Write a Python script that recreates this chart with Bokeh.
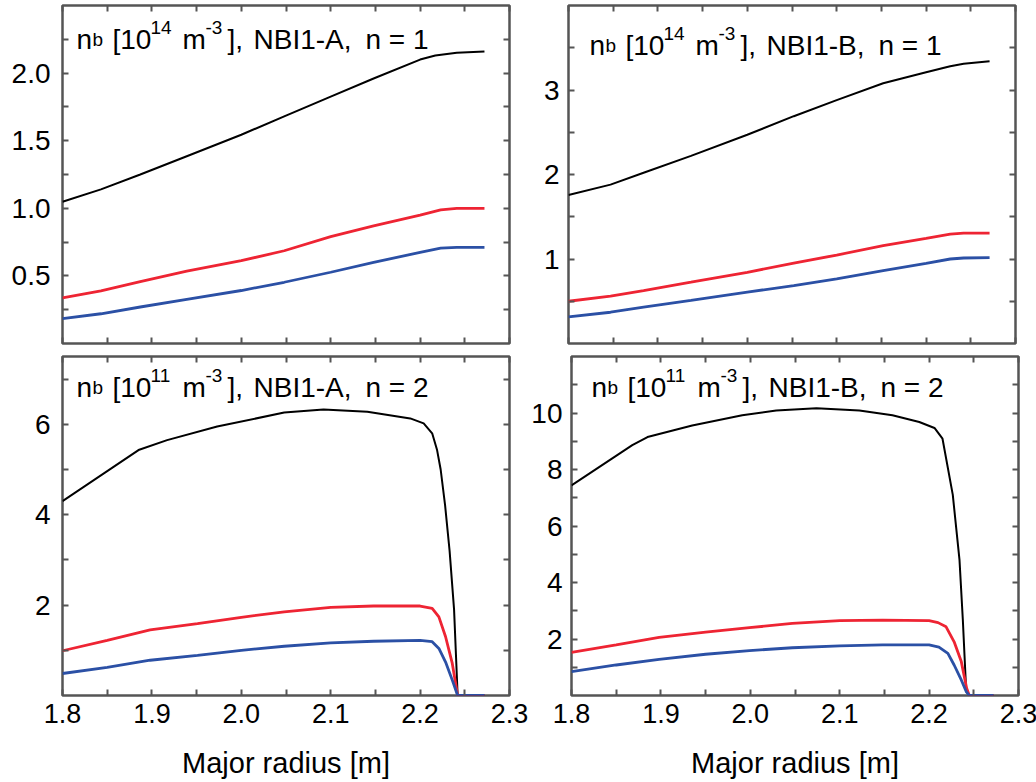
from bokeh.plotting import figure
from bokeh.layouts import column, row
from bokeh.models import (FixedTicker, PrintfTickFormatter, LinearAxis, Range1d, Label,
                          CustomJSTickFormatter)
from bokeh.embed import file_html
from bokeh.resources import INLINE

# ---- beam density profiles vs major radius ----
# NBI1-A, n = 1  [10^14 m^-3]
a1_black_x = [1.800, 1.843, 1.887, 1.939, 2.000, 2.048, 2.100, 2.148, 2.200, 2.217, 2.241, 2.272]
a1_black_y = [1.049, 1.14, 1.25, 1.385, 1.544, 1.68, 1.826, 1.96, 2.10, 2.13, 2.15, 2.16]
a1_red_x = [1.800, 1.843, 1.887, 1.939, 2.000, 2.048, 2.100, 2.148, 2.200, 2.223, 2.241, 2.272]
a1_red_y = [0.338, 0.39, 0.458, 0.535, 0.613, 0.686, 0.79, 0.87, 0.95, 0.988, 1.0, 1.0]
a1_blue_x = a1_red_x
a1_blue_y = [0.184, 0.22, 0.27, 0.326, 0.392, 0.453, 0.527, 0.60, 0.674, 0.706, 0.711, 0.711]

# NBI1-B, n = 1  [10^14 m^-3]
b1_x = [1.800, 1.847, 1.884, 1.937, 2.000, 2.052, 2.100, 2.152, 2.200, 2.227, 2.242, 2.271]
b1_black_y = [1.757, 1.88, 2.02, 2.22, 2.47, 2.69, 2.88, 3.08, 3.21, 3.28, 3.31, 3.34]
b1_red_y = [0.50, 0.56, 0.627, 0.725, 0.843, 0.95, 1.047, 1.157, 1.243, 1.294, 1.306, 1.306]
b1_blue_y = [0.314, 0.37, 0.431, 0.51, 0.608, 0.686, 0.765, 0.863, 0.949, 1.0, 1.012, 1.016]

# NBI1-A, n = 2  [10^11 m^-3]
a2_black_x = [1.800, 1.885, 1.917, 1.973, 2.048, 2.092, 2.141, 2.189, 2.204, 2.2135, 2.219,
              2.223, 2.228, 2.233, 2.238, 2.242, 2.272]
a2_black_y = [4.30, 5.43, 5.65, 5.95, 6.26, 6.33, 6.28, 6.13, 6.02, 5.80, 5.43,
              5.0, 4.2, 3.2, 1.9, 0.0, 0.0]
a2_x = [1.800, 1.850, 1.898, 1.951, 2.000, 2.048, 2.100, 2.148, 2.200, 2.2135, 2.221,
        2.2285, 2.236, 2.242, 2.272]
a2_red_y = [0.99, 1.22, 1.45, 1.59, 1.73, 1.85, 1.95, 1.98, 1.98, 1.93, 1.74, 1.30, 0.71, 0.0, 0.0]
a2_blue_y = [0.487, 0.62, 0.78, 0.89, 1.0, 1.09, 1.165, 1.20, 1.22, 1.19, 1.04, 0.74, 0.34, 0.0, 0.0]

# NBI1-B, n = 2  [10^11 m^-3]
b2_black_x = [1.800, 1.868, 1.885, 1.935, 1.991, 2.029, 2.074, 2.122, 2.159, 2.189, 2.206,
              2.215, 2.2265, 2.234, 2.2377, 2.2415, 2.245, 2.272]
b2_black_y = [7.44, 8.86, 9.15, 9.56, 9.92, 10.09, 10.17, 10.09, 9.92, 9.68, 9.47,
              9.09, 7.1, 4.8, 2.7, 0.15, 0.0, 0.0]
b2_red_x = [1.800, 1.850, 1.898, 1.950, 1.999, 2.047, 2.100, 2.148, 2.200, 2.210, 2.219,
            2.228, 2.236, 2.242, 2.245, 2.272]
b2_red_y = [1.53, 1.79, 2.06, 2.24, 2.40, 2.55, 2.65, 2.67, 2.65, 2.58, 2.43, 1.90, 1.20, 0.26, 0.0, 0.0]
b2_blue_x = [1.800, 1.850, 1.898, 1.950, 1.999, 2.047, 2.100, 2.148, 2.200, 2.211, 2.221,
             2.228, 2.236, 2.2415, 2.245, 2.272]
b2_blue_y = [0.845, 1.08, 1.28, 1.46, 1.59, 1.69, 1.76, 1.79, 1.79, 1.71, 1.49, 1.08, 0.55, 0.14, 0.0, 0.0]

# axes
x_ticks = [1.8, 1.9, 2.0, 2.1, 2.2, 2.3]
x_minor = [1.85, 1.95, 2.05, 2.15, 2.25]
x_label = "Major radius [m]"

a1_yticks, a1_yminor, a1_ymax = [0.5, 1.0, 1.5, 2.0], [0.25, 0.75, 1.25, 1.75, 2.25], 2.5
b1_yticks, b1_yminor, b1_ymax = [1, 2, 3], [0.5, 1.5, 2.5, 3.5], 4.0
a2_yticks, a2_yminor, a2_ymax = [2, 4, 6], [1, 3, 5, 7], 7.5
b2_yticks, b2_yminor, b2_ymax = [2, 4, 6, 8, 10], [1, 3, 5, 7, 9, 11], 12.0

BLACK, RED, BLUE = "#000000", "#ee2433", "#2b50a5"
FRAME_COLOR = "#555555"
FONT = "Liberation Sans"
FW = 447
BLANK = CustomJSTickFormatter(code="return ''")


def make_panel(fh, ymax, yticks, yminor, yfmt, lines, title, exp, label_dx, label_dy,
               left, right, top, bottom, xlabels, ystandoff):
    p = figure(frame_width=FW, frame_height=fh,
               x_range=Range1d(1.8, 2.3), y_range=Range1d(0, ymax),
               output_backend="svg", toolbar_location=None,
               min_border_left=left, min_border_right=right,
               min_border_top=top, min_border_bottom=bottom,
               background_fill_color="white", border_fill_color="white")
    p.grid.visible = False
    p.outline_line_color = FRAME_COLOR
    p.outline_line_width = 2.5
    p.outline_line_alpha = 1.0

    xt = FixedTicker(ticks=x_ticks, minor_ticks=x_minor)
    yt = FixedTicker(ticks=yticks, minor_ticks=yminor)

    def style(ax, show, size="28px"):
        ax.axis_line_color = None
        ax.major_tick_in = 6
        ax.major_tick_out = 0
        ax.minor_tick_in = 6
        ax.minor_tick_out = 0
        ax.major_tick_line_color = FRAME_COLOR
        ax.minor_tick_line_color = FRAME_COLOR
        ax.major_tick_line_width = 2
        ax.minor_tick_line_width = 2
        ax.major_label_text_font = FONT
        ax.major_label_text_font_size = size
        ax.major_label_text_color = "black"
        if not show:
            ax.formatter = BLANK
            ax.major_label_standoff = 0

    xa = p.xaxis[0]
    xa.ticker = xt
    xa.formatter = PrintfTickFormatter(format="%.1f")
    style(xa, xlabels, "27px")
    if xlabels:
        xa.major_label_standoff = 8
        xa.axis_label = x_label
        xa.axis_label_text_font = FONT
        xa.axis_label_text_font_size = "29px"
        xa.axis_label_text_font_style = "normal"
        xa.axis_label_text_color = "black"
        xa.axis_label_standoff = 21

    ya = p.yaxis[0]
    ya.ticker = yt
    ya.formatter = PrintfTickFormatter(format=yfmt)
    style(ya, True)
    ya.major_label_standoff = ystandoff

    for loc, tk in (("right", yt), ("above", xt)):
        ax = LinearAxis(ticker=tk)
        style(ax, False)
        p.add_layout(ax, loc)

    for xs, ys, color, w in lines:
        p.line(xs, ys, line_color=color, line_width=w)

    sx = 0.5 / FW
    sy = ymax / fh

    # panel label: n_b [10^k m^-3], beam, harmonic
    segs = [("n", 0, 0, "28px"), ("b", 16, 0, "19px"), ("[10", 36, 0, "28px"),
            (exp, 74, 12, "19px"), ("m", 106, 0, "28px"), ("-3", 129, 12, "19px"),
            ("],", 151, 0, "28px"), (title[0], 177, 0, "28px"), (title[1], 289, 0, "28px")]
    for txt, dx, up, size in segs:
        p.add_layout(Label(x=1.8 + (label_dx + dx) * sx, y=ymax - (label_dy - up) * sy,
                           text=txt, text_font=FONT, text_font_size=size,
                           text_color="black", text_align="left",
                           text_baseline="alphabetic"))
    return p


p1 = make_panel(338, a1_ymax, a1_yticks, a1_yminor, "%.1f",
                [(a1_black_x, a1_black_y, BLACK, 2), (a1_red_x, a1_red_y, RED, 2.8),
                 (a1_blue_x, a1_blue_y, BLUE, 2.8)],
                ("NBI1-A,", "n = 1"), "14", 14, 34, 62, 19, 5, 6, False, 12)
p2 = make_panel(338, b1_ymax, b1_yticks, b1_yminor, "%d",
                [(b1_x, b1_black_y, BLACK, 2), (b1_x, b1_red_y, RED, 2.8),
                 (b1_x, b1_blue_y, BLUE, 2.8)],
                ("NBI1-B,", "n = 1"), "14", 21, 40, 40, 21, 5, 6, False, 9)
p3 = make_panel(339, a2_ymax, a2_yticks, a2_yminor, "%d",
                [(a2_black_x, a2_black_y, BLACK, 2), (a2_x, a2_red_y, RED, 2.8),
                 (a2_x, a2_blue_y, BLUE, 2.8)],
                ("NBI1-A,", "n = 2"), "11", 14, 31, 62, 19, 7, 80, True, 12)
p4 = make_panel(339, b2_ymax, b2_yticks, b2_yminor, "%d",
                [(b2_black_x, b2_black_y, BLACK, 2), (b2_red_x, b2_red_y, RED, 2.8),
                 (b2_blue_x, b2_blue_y, BLUE, 2.8)],
                ("NBI1-B,", "n = 2"), "11", 20, 31, 40, 21, 7, 80, True, 9)

layout = column(row(p1, p2), row(p3, p4))

with open("out.html", "w") as f:
    f.write(file_html(layout, INLINE))
